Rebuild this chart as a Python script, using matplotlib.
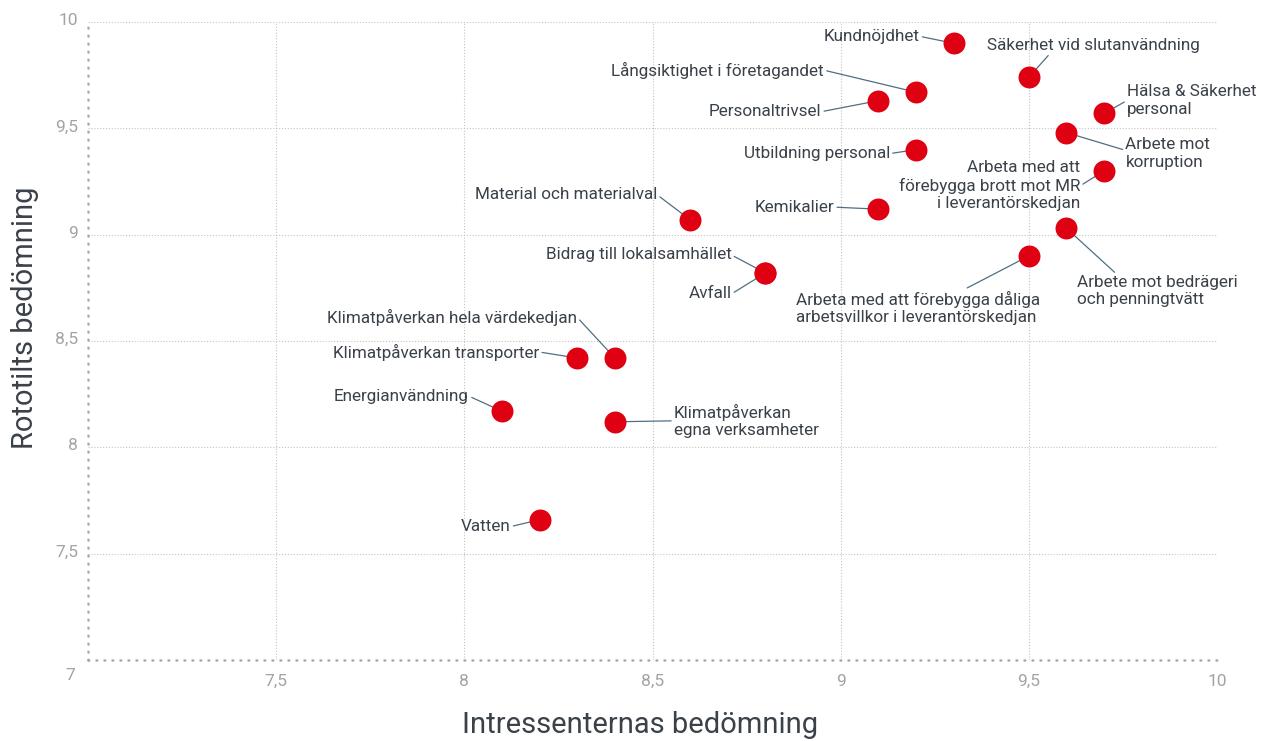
import matplotlib
matplotlib.use("Agg")
import matplotlib.pyplot as plt
import matplotlib.transforms as mtransforms
from matplotlib.ticker import FuncFormatter

# ---- data ----
labels = [
    "Kundnöjdhet",
    "Säkerhet vid slutanvändning",
    "Långsiktighet i företagandet",
    "Personaltrivsel",
    "Hälsa & Säkerhet\npersonal",
    "Arbete mot\nkorruption",
    "Utbildning personal",
    "Arbeta med att\nförebygga brott mot MR\ni leverantörskedjan",
    "Kemikalier",
    "Material och materialval",
    "Arbete mot bedrägeri\noch penningtvätt",
    "Arbeta med att förebygga dåliga\narbetsvillkor i leverantörskedjan",
    "Bidrag till lokalsamhället",
    "Avfall",
    "Klimatpåverkan hela värdekedjan",
    "Klimatpåverkan transporter",
    "Energianvändning",
    "Klimatpåverkan\negna verksamheter",
    "Vatten",
]
intressenter = [9.3, 9.5, 9.2, 9.1, 9.7, 9.6, 9.2, 9.7, 9.1, 8.6, 9.6, 9.5,
                8.8, 8.8, 8.4, 8.3, 8.1, 8.4, 8.2]
rototilt = [9.9, 9.74, 9.67, 9.63, 9.57, 9.48, 9.4, 9.3, 9.12, 9.07, 9.03, 8.9,
            8.82, 8.82, 8.42, 8.42, 8.17, 8.12, 7.66]
ticks = [7.5, 8, 8.5, 9, 9.5, 10]

# ---- label placement (offset in pixels, alignment, leader start on text box) ----
offsets = [(-34, 7), (-42, 32), (-92, 22), (-57, -11), (23, 13), (59, -21),
           (-26, -4), (-24, -15), (-44, 2), (-33, 25), (11, -63), (-233, -52),
           (-34, 18), (-34, -21), (-38, 41), (-38, 6), (-33, 15), (59, 1), (-29, -7)]
aligns = ["right", "left", "right", "right", "left", "left",
          "right", "right", "right", "right", "left", "left",
          "right", "right", "right", "right", "right", "left", "right"]
relpos = [(1, 0.5), (0.3, 0), (1, 0.5), (1, 0.5), (0, 0.5), (0, 0.6),
          (1, 0.5), (1, 0.5), (1, 0.5), (1, 0.5), (0.25, 1), (0.68, 1),
          (1, 0.5), (1, 0.5), (1, 0.5), (1, 0.5), (1, 0.5), (0, 0.5), (1, 0.5)]

plt.rcParams['font.family'] = ['Roboto', 'DejaVu Sans']
text_col = "#3a4149"
tick_col = "#a3a3a3"
line_col = "#4f6f82"
dot_col = "#df0011"

fig = plt.figure(figsize=(12.65, 7.41), dpi=100)
ax = fig.add_axes([88 / 1265, 81 / 741, (1217 - 88) / 1265, (660 - 22) / 741])

ax.scatter(intressenter, rototilt, s=250, color=dot_col, zorder=10, linewidths=0)

for i, lab in enumerate(labels):
    ax.annotate(lab, xy=(intressenter[i], rototilt[i]), xytext=offsets[i],
                textcoords="offset pixels", ha=aligns[i], va="center",
                multialignment=aligns[i], fontsize=12.3, color=text_col,
                linespacing=1.2,
                arrowprops=dict(arrowstyle="-", color=line_col, lw=0.9,
                                shrinkA=0, shrinkB=0, relpos=relpos[i]))

ax.set_xlim(7, 10)
ax.set_ylim(7, 10)
ax.set_xticks(ticks)
ax.set_yticks(ticks)
fmt = FuncFormatter(lambda v, p: f"{v:g}".replace(".", ","))
ax.xaxis.set_major_formatter(fmt)
ax.yaxis.set_major_formatter(fmt)
ax.tick_params(length=0, labelsize=12.5, labelcolor=tick_col)
ax.tick_params(axis="x", pad=10)
ax.tick_params(axis="y", pad=7)
# y labels sit slightly above their grid line
shift = mtransforms.ScaledTranslation(0, 3 / 100, fig.dpi_scale_trans)
for lbl in ax.get_yticklabels():
    lbl.set_transform(lbl.get_transform() + shift)

ax.grid(True, linestyle=(0, (1, 1.6)), color="#c4c4c4", lw=0.8)
ax.xaxis.get_gridlines()[-1].set_visible(False)
ax.set_axisbelow(True)

for s in ["top", "right"]:
    ax.spines[s].set_visible(False)
for s in ["left", "bottom"]:
    ax.spines[s].set_color("#a8a8a8")
    ax.spines[s].set_linewidth(1.8)
    ax.spines[s].set_linestyle((0, (0.3, 2.9)))
    ax.spines[s].set_capstyle("round")

# shared origin label
ax.annotate("7", xy=(0, 0), xycoords="axes fraction", xytext=(-18, -15),
            textcoords="offset pixels", ha="center", va="center",
            fontsize=12.5, color=tick_col)

ax.set_xlabel("Intressenternas bedömning", fontsize=21, color=text_col, va="center")
ax.set_ylabel("Rototilts bedömning", fontsize=21, color=text_col, va="center")
ax.xaxis.set_label_coords(0.489, -0.102)
ax.yaxis.set_label_coords(-0.0558, 0.536)

fig.savefig("out.png", dpi=100)
